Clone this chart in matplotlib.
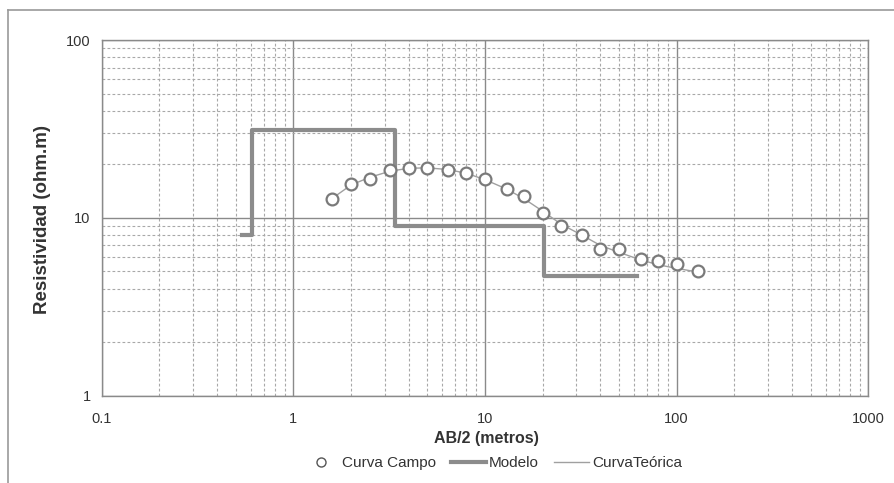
import matplotlib
matplotlib.use("Agg")
import matplotlib.pyplot as plt
from matplotlib.lines import Line2D
from matplotlib.ticker import LogLocator, FixedLocator, NullFormatter

plt.rcParams['font.family'] = ['Liberation Sans', 'DejaVu Sans']

# Field data (Curva Campo)
ab2 = [1.6, 2, 2.5, 3.2, 4, 5, 6.4, 8, 10, 13, 16, 20, 25, 32, 40, 50, 65, 80, 100, 130]
rho_campo = [12.8, 15.6, 16.6, 18.5, 19.0, 19.1, 18.6, 17.9, 16.6, 14.6, 13.2, 10.6,
             9.0, 8.0, 6.65, 6.7, 5.85, 5.7, 5.5, 5.0]

# Theoretical curve (Curva Teórica)
rho_teorica = [12.9, 15.3, 16.9, 18.3, 19.0, 19.1, 18.7, 17.8, 16.4, 14.5, 12.8, 10.9,
               9.2, 8.0, 7.0, 6.4, 5.8, 5.45, 5.2, 4.95]

# Layered model (Modelo): layer boundaries and resistivities
model_x = [0.54, 0.607, 3.39, 20.2, 62]
model_rho = [8.0, 31.2, 9.0, 4.7, 4.7]

W, H = 894, 483
fig = plt.figure(figsize=(W / 100, H / 100), dpi=100)
fig.patch.set_facecolor('white')
ax = fig.add_axes([101.7 / W, 1 - 395.7 / H, (868.3 - 101.7) / W, (395.7 - 40) / H])

ax.set_xscale('log')
ax.set_yscale('log')
ax.set_xlim(0.1, 1000)
ax.set_ylim(1, 100)

# grid
ax.xaxis.set_minor_locator(LogLocator(base=10, subs=range(2, 10)))
ax.yaxis.set_minor_locator(LogLocator(base=10, subs=range(2, 10)))
ax.xaxis.set_minor_formatter(NullFormatter())
ax.yaxis.set_minor_formatter(NullFormatter())
ax.grid(which='major', color='#8a8a8a', linestyle='-', linewidth=1.0)
ax.grid(which='minor', color='#a8a8a8', linestyle=(0, (2.5, 2)), linewidth=0.8)
ax.set_axisbelow(True)

ax.xaxis.set_major_locator(FixedLocator([0.1, 1, 10, 100, 1000]))
ax.yaxis.set_major_locator(FixedLocator([1, 10, 100]))
ax.set_xticklabels(['0.1', '1', '10', '100', '1000'])
ax.set_yticklabels(['1', '10', '100'])
ax.tick_params(which='both', length=0, labelsize=10.5, labelcolor='#333333')
ax.tick_params(axis='x', pad=12)
ax.tick_params(axis='y', pad=8)

for s in ax.spines.values():
    s.set_color('#8a8a8a')
    s.set_linewidth(1.0)

# data
ax.step(model_x, model_rho, where='post', color='#8c8c8c', linewidth=3, zorder=3)
ax.plot(ab2, rho_teorica, color='#a0a0a0', linewidth=1.0, zorder=4)
ax.plot(ab2, rho_campo, linestyle='none', marker='o', markersize=8.5,
        markerfacecolor='white', markeredgecolor='#7a7a7a', markeredgewidth=1.6, zorder=5)

fig.text(486 / W, 1 - 438 / H, 'AB/2 (metros)', fontsize=11.5, fontweight='bold',
         color='#333333', ha='center', va='center')
fig.text(43 / W, 1 - 219 / H, 'Resistividad (ohm.m)', fontsize=13.5, fontweight='bold',
         color='#333333', ha='center', va='center', rotation=90)

handles = [
    Line2D([], [], linestyle='none', marker='o', markersize=6.5, markerfacecolor='white',
           markeredgecolor='#555555', markeredgewidth=1.0),
    Line2D([], [], color='#8c8c8c', linewidth=3),
    Line2D([], [], color='#a0a0a0', linewidth=1),
]
fig.legend(handles, ['Curva Campo', 'Modelo', 'CurvaTeórica'], loc='center',
           bbox_to_anchor=(493 / W, 1 - 463 / H), ncol=3, frameon=False,
           fontsize=11, handlelength=2.3, handletextpad=0.2, columnspacing=1.0,
           labelcolor='#333333')

# outer chart border (cropped at right/bottom)
fig.add_artist(Line2D([8 / W, 8 / W], [0, 1 - 10 / H], transform=fig.transFigure,
                      color='#9a9a9a', linewidth=1.2))
fig.add_artist(Line2D([8 / W, 1], [1 - 10 / H, 1 - 10 / H], transform=fig.transFigure,
                      color='#9a9a9a', linewidth=1.2))

fig.savefig('out.png', dpi=100)
